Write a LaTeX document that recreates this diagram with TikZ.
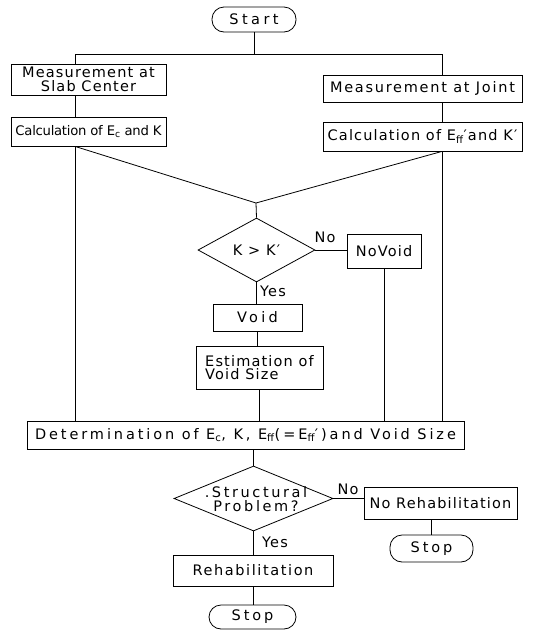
\documentclass[tikz,border=0pt]{standalone}
\usepackage{fontspec}
\setmainfont[LetterSpace=8]{DejaVu Sans}
\usetikzlibrary{shapes.geometric}

\begin{document}
\begin{tikzpicture}[x=1pt,y=-1pt,line width=0.8pt,
    every node/.style={font=\fontsize{14.5}{13.5}\selectfont,inner sep=0pt},
    track/.style={font=\fontsize{14.5}{13.5}\selectfont\addfontfeatures{LetterSpace=#1}},
    box/.style={draw,rectangle,align=center},
    term/.style={draw,rectangle,rounded corners=12pt},
    test/.style={draw,diamond,align=center}]
  \useasboundingbox (0,0) rectangle (535,630);
  \draw
    (254,19.5) node[term,track=24,minimum width=84,minimum height=25] (start){Start}
    (88.5,79.5) node[box,minimum width=155,minimum height=31] (measL){Measurement at\\Slab Center}
    (88.5,131.5) node[box,font=\fontsize{13.2}{13}\selectfont\addfontfeatures{LetterSpace=-2},minimum width=155,minimum height=29] (calcL){Calculation of E\textsubscript{c} and K}
    (422.5,88.5) node[box,track=12,minimum width=199,minimum height=27] (measR){Measurement at Joint}
    (422.5,136.5) node[box,minimum width=199,minimum height=29] (calcR){Calculation of E\textsubscript{ff}′and K′}
    (256.5,250) node[test,minimum width=117,minimum height=64] (dia1){}
    (dia1) node (dia1txt){K > K′}
    (384,251) node[box,minimum width=74,minimum height=34] (novoid){NoVoid}
    (257.5,317.5) node[box,track=23,minimum width=89,minimum height=27] (void){Void}
    (259.5,367.5) node[box,align=left,minimum width=127,minimum height=43] (est){Estimation of\\Void Size}
    (245.5,435) node[box,track=20,minimum width=437,minimum height=28] (det){Determination of E\textsubscript{c}, K, E\textsubscript{ff}(=E\textsubscript{ff}′)and Void Size}
    (253.5,498.5) node[test,minimum width=159,minimum height=65] (dia2){}
    (256,499) node[track=18,align=center] (dia2txt){.Structural\\Problem?}
    (440.5,503) node[box,minimum width=153,minimum height=32] (norehab){No Rehabilitation}
    (431.5,548.5) node[term,track=20,minimum width=83,minimum height=27] (stopR){Stop}
    (253,570.5) node[box,track=11,minimum width=160,minimum height=31] (rehab){Rehabilitation}
    (252.5,617) node[term,track=20,minimum width=87,minimum height=24] (stopB){Stop}
    (325,237) node (no1){No}
    (273,291) node (yes1){Yes}
    (348,489) node (no2){No}
    (275,542) node (yes2){Yes};
  \coordinate (jL) at (75,54);
  \coordinate (jR) at (442,54);
  \coordinate (apex) at (256,203);
  \begin{scope}[-]
    \draw (start) to (start |- jL);
    \draw (jL) to (jR);
    \draw (jL) to (jL |- measL.north);
    \draw (jR) to (jR |- measR.north);
    \draw (measL.south -| jL) to (calcL.north -| jL);
    \draw (measR.south -| jR) to (calcR.north -| jR);
    \draw (calcL.south -| jL) to (jL |- det.north);
    \draw (calcR.south -| jR) to (jR |- det.north);
    \draw (calcL.south -| jL) to (apex);
    \draw (calcR.south -| jR) to (apex);
    \draw (apex) to (dia1.north);
    \draw (dia1.east) to (dia1.east -| novoid.west);
    \draw (novoid.south) to (novoid.south |- det.north);
    \draw (dia1.south) to (dia1.south |- void.north);
    \draw (void.south) to (void.south |- est.north);
    \draw (est.south) to (est.south |- det.north);
    \draw (dia2.north) to (dia2.north |- det.south);
    \draw (dia2.east) to (dia2.east -| norehab.west);
    \draw (stopR.north) to (stopR.north |- norehab.south);
    \draw (dia2.south) to (dia2.south |- rehab.north);
    \draw (rehab.south) to (rehab.south |- stopB.north);
  \end{scope}
\end{tikzpicture}
\end{document}
